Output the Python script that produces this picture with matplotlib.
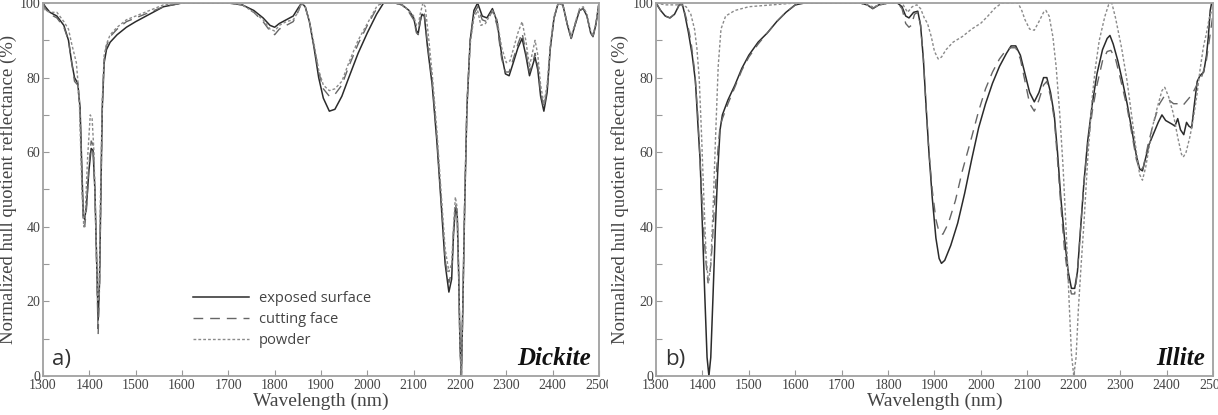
import matplotlib
matplotlib.use("Agg")
import matplotlib.pyplot as plt
from matplotlib.ticker import MultipleLocator
from matplotlib.transforms import Bbox

# ---------------- Dickite ----------------
dick_exp_wl = [1300, 1305, 1315, 1330, 1345, 1355, 1362, 1368, 1375, 1380, 1384, 1387, 1390, 1394, 1399, 1404, 1408, 1412, 1416, 1419, 1422, 1425, 1428, 1432, 1437, 1445, 1460, 1480, 1500, 1530, 1560, 1600, 1700, 1730, 1755, 1775, 1790, 1800, 1810, 1825, 1840, 1850, 1858, 1866, 1875, 1885, 1895, 1905, 1918, 1930, 1945, 1960, 1980, 2000, 2020, 2035, 2060, 2075, 2090, 2100, 2106, 2110, 2114, 2118, 2123, 2130, 2140, 2150, 2160, 2168, 2176, 2182, 2186, 2190, 2194, 2197, 2200, 2203, 2206, 2210, 2215, 2222, 2230, 2238, 2248, 2258, 2270, 2280, 2290, 2298, 2306, 2315, 2325, 2334, 2342, 2350, 2356, 2362, 2368, 2374, 2381, 2388, 2395, 2403, 2412, 2422, 2432, 2440, 2448, 2458, 2466, 2474, 2482, 2487, 2493, 2500]
dick_exp_val = [100, 99, 97.5, 96.5, 94, 90, 84, 80, 78.5, 72, 55, 43, 42, 46, 55, 61, 60.5, 50, 30, 15, 25, 50, 72, 84, 87.5, 89.5, 91.5, 93.5, 95, 97, 99, 100, 100, 99.5, 98, 96, 94, 93.5, 94.5, 95.5, 96.5, 98.5, 100, 99, 95, 88, 80, 74.5, 71, 71.5, 75, 80, 86.5, 92, 97, 100, 100, 99.5, 98, 96, 92.5, 92, 95, 97, 96.5, 88, 78, 63, 45, 30, 22.5, 26, 38, 45, 43, 28, 8, 0, 18, 45, 72, 90, 98, 100, 96.5, 96, 98.5, 95, 86, 81, 80.5, 84, 88, 90.5, 86, 80.5, 83, 85.5, 82, 75, 71, 76, 88, 96, 100, 99.5, 94, 90.5, 94, 98, 98.5, 96.5, 92, 91, 94, 100]

dick_cut_wl = [1300, 1305, 1315, 1330, 1345, 1355, 1362, 1368, 1375, 1380, 1384, 1387, 1390, 1394, 1399, 1404, 1408, 1412, 1416, 1419, 1422, 1425, 1428, 1432, 1437, 1445, 1460, 1480, 1500, 1530, 1560, 1600, 1700, 1730, 1755, 1775, 1790, 1800, 1810, 1825, 1840, 1850, 1858, 1866, 1875, 1885, 1895, 1905, 1918, 1930, 1945, 1960, 1980, 2000, 2020, 2030, 2060, 2075, 2090, 2100, 2106, 2110, 2114, 2118, 2123, 2130, 2140, 2150, 2160, 2168, 2176, 2182, 2186, 2190, 2194, 2197, 2200, 2203, 2206, 2210, 2215, 2222, 2230, 2238, 2248, 2258, 2270, 2280, 2290, 2298, 2306, 2315, 2325, 2334, 2342, 2350, 2356, 2362, 2368, 2374, 2381, 2388, 2395, 2403, 2412, 2422, 2432, 2440, 2448, 2458, 2466, 2474, 2482, 2487, 2493, 2500]
dick_cut_val = [100, 98.5, 97, 96, 93.5, 90, 84, 79, 78, 71, 53, 41, 40, 45, 56, 63, 62, 50, 28, 11, 24, 50, 73, 85, 88.5, 91, 93, 95, 96, 97.5, 99, 100, 100, 99.5, 97.5, 95, 92.5, 91.5, 93, 94, 95, 97.5, 100, 99, 95, 88.5, 81.5, 77, 75, 75.5, 78, 83, 89, 94, 98.5, 100, 100, 99.5, 97.5, 95.5, 92, 91.5, 95, 97.5, 97, 89, 79, 64, 46, 31, 25, 28, 39, 46, 44, 28, 8, 0, 18, 46, 73, 90, 97, 99, 95.5, 95, 98, 94, 85, 81.5, 81.5, 85, 89, 92, 87, 81.5, 83.5, 86.5, 83, 76, 72, 77, 88, 96, 100, 99.5, 94, 90.5, 94, 98, 98.5, 96.5, 92, 91, 94, 100]

dick_pow_wl = [1300, 1305, 1315, 1330, 1345, 1355, 1362, 1368, 1372, 1378, 1384, 1388, 1391, 1396, 1402, 1406, 1410, 1414, 1418, 1421, 1424, 1428, 1432, 1437, 1445, 1460, 1480, 1500, 1530, 1560, 1600, 1700, 1730, 1755, 1775, 1790, 1800, 1810, 1825, 1840, 1850, 1858, 1866, 1875, 1885, 1895, 1905, 1918, 1930, 1945, 1960, 1980, 2000, 2020, 2030, 2060, 2075, 2090, 2100, 2106, 2110, 2114, 2120, 2125, 2132, 2140, 2150, 2160, 2168, 2176, 2182, 2186, 2190, 2194, 2197, 2200, 2203, 2206, 2210, 2215, 2222, 2230, 2238, 2245, 2255, 2270, 2280, 2290, 2300, 2308, 2316, 2325, 2334, 2342, 2350, 2356, 2362, 2368, 2374, 2381, 2388, 2395, 2403, 2412, 2422, 2432, 2440, 2448, 2458, 2466, 2474, 2482, 2487, 2493, 2500]
dick_pow_val = [100, 98, 97.5, 97.5, 95, 93, 89, 86, 84, 75, 50, 40, 43, 58, 70, 69, 60, 40, 20, 22, 48, 74, 86, 89, 91.5, 93.5, 95.5, 96.5, 98, 99.5, 100, 100, 99.5, 97.5, 95.5, 93, 92.5, 94, 95, 95.5, 97.5, 100, 99, 95, 89, 82, 78, 76.5, 77, 79, 84, 90, 94.5, 99, 100, 100, 99.5, 98, 96.5, 94, 94, 97, 100, 99, 91, 81, 66, 48, 34, 28, 30, 40, 48, 45, 28, 8, 0, 18, 46, 73, 89, 96, 98, 94, 94.5, 98, 95.5, 88, 84, 84.5, 88, 92, 95, 90, 83, 86.5, 90, 86, 78, 73, 78, 89, 96.5, 100, 99.5, 94.5, 91, 94.5, 98.5, 99, 97, 92.5, 91.5, 94.5, 100]

# ---------------- Illite ----------------
ill_exp_wl = [1300, 1310, 1320, 1330, 1340, 1350, 1356, 1362, 1370, 1378, 1385, 1390, 1395, 1400, 1405, 1410, 1414, 1418, 1423, 1428, 1433, 1438, 1443, 1455, 1470, 1485, 1500, 1520, 1540, 1560, 1580, 1600, 1620, 1740, 1755, 1767, 1780, 1800, 1820, 1830, 1838, 1845, 1855, 1864, 1870, 1876, 1882, 1888, 1895, 1903, 1910, 1915, 1922, 1935, 1950, 1965, 1980, 1995, 2010, 2025, 2040, 2055, 2065, 2075, 2085, 2095, 2105, 2115, 2125, 2135, 2142, 2150, 2158, 2165, 2172, 2180, 2188, 2195, 2202, 2208, 2215, 2222, 2230, 2240, 2250, 2262, 2272, 2278, 2285, 2295, 2305, 2315, 2325, 2335, 2342, 2348, 2354, 2362, 2372, 2382, 2390, 2398, 2405, 2412, 2418, 2424, 2430, 2437, 2443, 2448, 2454, 2460, 2466, 2472, 2480, 2486, 2490, 2494, 2497, 2500]
ill_exp_val = [100, 98, 96.5, 96, 97, 99.5, 100, 97, 92, 86, 79, 68, 58, 40, 22, 5, 0, 5, 22, 40, 55, 66, 70, 74, 78, 82.5, 86, 89.5, 92, 95, 97.5, 99.5, 100, 100, 99.5, 98.5, 99.5, 100, 100, 99, 96.5, 96, 97.5, 97.8, 94, 85, 72, 60, 48, 37, 31.5, 30.2, 31, 35, 41, 49, 58, 66.5, 73, 78.5, 83, 86.5, 88.5, 88.5, 86, 81, 76, 73.5, 76, 80, 80, 76, 70, 60, 48, 37, 28, 23.5, 23.5, 28, 40, 52, 63, 73, 81, 87.5, 90.5, 91.3, 89, 84.5, 79, 73, 66, 59, 55.5, 55, 58, 62, 65, 68, 70, 68.5, 68, 67.5, 67, 69, 66, 64.7, 68, 67, 66.5, 73, 79, 80.5, 81.5, 86, 91, 98, 100, 100]

ill_cut_wl = [1300, 1310, 1320, 1330, 1340, 1350, 1356, 1365, 1375, 1383, 1390, 1396, 1402, 1408, 1412, 1416, 1421, 1427, 1433, 1438, 1443, 1455, 1470, 1485, 1500, 1520, 1540, 1560, 1580, 1600, 1620, 1740, 1755, 1767, 1780, 1800, 1820, 1830, 1838, 1845, 1850, 1857, 1864, 1870, 1876, 1882, 1888, 1895, 1903, 1910, 1918, 1930, 1945, 1960, 1980, 1995, 2010, 2025, 2040, 2055, 2065, 2075, 2085, 2095, 2105, 2115, 2125, 2135, 2142, 2150, 2158, 2165, 2172, 2180, 2188, 2195, 2202, 2208, 2215, 2222, 2230, 2240, 2250, 2262, 2272, 2280, 2290, 2300, 2315, 2325, 2335, 2343, 2350, 2360, 2372, 2385, 2395, 2405, 2415, 2425, 2435, 2445, 2455, 2465, 2475, 2485, 2492, 2500]
ill_cut_val = [100, 98, 96.5, 96, 97, 99.5, 100, 96, 90, 82, 70, 55, 40, 30, 25, 27, 35, 48, 60, 67, 69, 73, 77.5, 82, 85.5, 89, 92, 95, 97.5, 99.5, 100, 100, 99.5, 98.5, 99.5, 100, 100, 98.5, 94.5, 93.5, 94, 97, 97.5, 94, 85, 72, 60, 50, 42, 38.5, 38, 41, 47, 55, 64, 71, 77, 81.5, 85, 87.5, 88, 88, 85, 79, 73, 71, 74, 78, 79, 75, 69, 58, 46, 34, 26, 22, 22, 28, 40, 52, 62, 71, 78, 84.5, 87, 87.3, 85, 80, 72, 65, 58, 55, 56, 62, 68, 73, 75, 74, 73, 73, 72.5, 74, 75.5, 78, 80, 84, 90, 97]

ill_pow_wl = [1300, 1320, 1350, 1365, 1375, 1383, 1388, 1393, 1398, 1403, 1408, 1413, 1418, 1423, 1428, 1434, 1440, 1450, 1470, 1500, 1550, 1600, 1740, 1767, 1800, 1830, 1842, 1852, 1862, 1870, 1878, 1885, 1893, 1900, 1908, 1915, 1925, 1940, 1960, 1980, 2000, 2015, 2030, 2045, 2080, 2088, 2095, 2105, 2115, 2125, 2135, 2140, 2147, 2155, 2162, 2170, 2177, 2184, 2190, 2195, 2200, 2205, 2210, 2216, 2222, 2230, 2240, 2247, 2255, 2267, 2275, 2282, 2290, 2303, 2315, 2325, 2335, 2342, 2348, 2355, 2362, 2370, 2380, 2390, 2396, 2404, 2414, 2424, 2432, 2436, 2442, 2450, 2457, 2465, 2472, 2479, 2486, 2492, 2500]
ill_pow_val = [100, 99.5, 99.5, 99, 97, 93, 88, 80, 65, 48, 32, 25, 30, 45, 63, 83, 93, 96.5, 98, 99, 99.5, 100, 100, 99, 100, 100, 97.5, 99, 99.5, 98.5, 96, 94.5, 91, 87, 85, 85.5, 87.5, 89.5, 91, 93, 94.6, 96.5, 98.6, 100, 100, 98, 95.5, 93, 92.7, 95, 97.5, 98, 96.5, 91, 83, 70, 56, 38, 20, 6, 0, 5, 18, 30, 41, 58, 75, 83, 90, 96.4, 99.5, 100, 96, 88, 79, 69.6, 60, 54, 52.5, 56, 61, 67, 72, 76.5, 77.4, 75, 70.6, 64, 59.5, 58.7, 60, 64, 68.5, 75, 82, 88, 92, 96, 99]

legend_labels = ["exposed surface", "cutting face", "powder"]
x_ticks = list(range(1300, 2501, 100))
y_ticks = [0, 20, 40, 60, 80, 100]

SERIF = "Liberation Serif"
SANS = "Open Sans"

fig = plt.figure(figsize=(12.18, 4.15), dpi=100)
ax1 = fig.add_axes([43 / 1218, 1 - 376 / 415, 556 / 1218, 373 / 415])
ax2 = fig.add_axes([656 / 1218, 1 - 376 / 415, 557 / 1218, 373 / 415])

styles = [
    dict(color="#2b2b2b", lw=1.1, ls="-"),
    dict(color="#666666", lw=1.0, ls=(0, (7, 5))),
    dict(color="#8a8a8a", lw=1.0, ls=(0, (2, 1.5))),
]

panels = [
    (ax1, [(dick_exp_wl, dick_exp_val), (dick_cut_wl, dick_cut_val), (dick_pow_wl, dick_pow_val)], "a)", "Dickite", -0.047),
    (ax2, [(ill_exp_wl, ill_exp_val), (ill_cut_wl, ill_cut_val), (ill_pow_wl, ill_pow_val)], "b)", "Illite", -0.049),
]

for ax, series, tag, name, ylx in panels:
    for (wl, val), st, lab in zip(series, styles, legend_labels):
        ax.plot(wl, val, label=lab, **st)
    ax.set_xlim(1300, 2500)
    ax.set_ylim(0, 100)
    ax.set_xticks(x_ticks)
    ax.set_yticks(y_ticks)
    ax.yaxis.set_minor_locator(MultipleLocator(10))
    ax.tick_params(axis="both", which="both", direction="in", colors="#999999",
                   labelcolor="#444444", width=0.8, length=4)
    for lab in ax.get_xticklabels() + ax.get_yticklabels():
        lab.set_fontfamily(SERIF)
        lab.set_fontsize(10)
    ax.tick_params(axis="x", pad=2)
    ax.tick_params(axis="y", pad=2)
    for sp in ax.spines.values():
        sp.set_color("#a0a0a0")
        sp.set_linewidth(1.3)
    ax.set_xlabel("Wavelength (nm)", fontfamily=SERIF, fontsize=14, color="#444444", labelpad=1)
    ax.set_ylabel("Normalized hull quotient reflectance (%)", fontfamily=SERIF, fontsize=13.5,
                  color="#444444")
    ax.yaxis.set_label_coords(ylx, 0.5)
    ax.text(0.016, 0.03, tag, transform=ax.transAxes, fontfamily=SANS, fontsize=16,
            color="#333333", ha="left", va="baseline")
    ax.text(0.985, 0.03, name, transform=ax.transAxes, fontfamily=SERIF, fontsize=18,
            fontweight="bold", fontstyle="italic", color="#111111", ha="right", va="baseline")

leg = ax1.legend(loc="upper left", bbox_to_anchor=(0.26, 0.243), frameon=False,
                 handlelength=3.8, handletextpad=0.7, labelspacing=0.4,
                 prop={"family": SANS, "size": 10.5}, borderaxespad=0)
for t in leg.get_texts():
    t.set_color("#444444")

fig.canvas.draw()
clip = Bbox([[0, 0], [608, 415]])
for lab in ax1.get_xticklabels():
    lab.set_clip_box(clip)
    lab.set_clip_on(True)

fig.savefig("out.png", dpi=100)
